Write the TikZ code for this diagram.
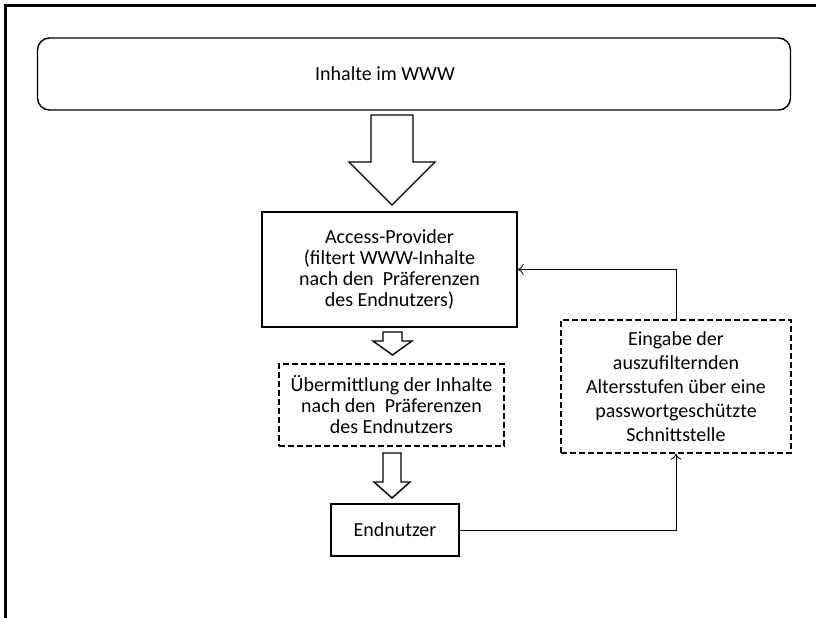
\documentclass[tikz,border=0pt]{standalone}
\usepackage{fontspec}
\setmainfont{Carlito}
\usetikzlibrary{arrows.meta}
\tikzstyle{frame}=[line width=3pt]
\tikzstyle{box}=[rectangle,draw=black,line width=1.4pt,align=center,inner sep=0pt]
\tikzstyle{dbox}=[box,dash pattern=on 6pt off 3pt]
\tikzstyle{rbox}=[box,rounded corners=12pt]
\tikzstyle{fatarrow}=[draw=black,line width=1.4pt,fill=white,line join=miter]
\tikzstyle{link}=[-{To[length=6pt,width=11pt]},line width=0.8pt]
% x, top, neck, tip, half shaft, half head
\newcommand{\blockarrow}[6]{%
  \draw[fatarrow] (#1-#5,#2) -- (#1+#5,#2) -- (#1+#5,#3) -- (#1+#6,#3)
    -- (#1,#4) -- (#1-#6,#3) -- (#1-#5,#3) -- cycle;}

\begin{document}
\begin{tikzpicture}[x=1pt,y=-1pt,font=\fontsize{20}{21}\selectfont]
  \useasboundingbox (0,0) rectangle (816,618);
  \draw[frame] (5.5,618) -- (5.5,5.5) -- (816,5.5);

  \node[rbox,minimum width=753pt,minimum height=72pt] (www) at (414,74) {};
  \node (wwwtxt) at (385,74) {Inhalte im WWW};
  \node[box,minimum width=255pt,minimum height=115pt] (acc) at (389.5,269.5)
    {Access-Provider\\(filtert WWW-Inhalte\\nach den~ Präferenzen\\des Endnutzers)};
  \node[dbox,minimum width=225pt,minimum height=82pt] (uebm) at (391.5,405)
    {Übermittlung der Inhalte\\nach den~ Präferenzen\\des Endnutzers};
  \node[box,minimum width=128pt,minimum height=52pt] (endn) at (395,530) {Endnutzer};
  \node[dbox,minimum width=230pt,minimum height=133pt,
    font=\fontsize{20}{24}\selectfont] (eing) at (676,386.5)
    {Eingabe der\\auszufilternden\\Altersstufen über eine\\passwortgeschützte\\Schnittstelle};

  \blockarrow{392}{115}{162}{205}{21}{43}
  \blockarrow{392.5}{332}{341}{355}{9.5}{19.5}
  \blockarrow{392}{453}{482}{498}{9}{18}

  \draw[link] (eing.north) |- (acc.east);
  \draw[link] (endn.east) -| (eing.south);
\end{tikzpicture}
\end{document}
